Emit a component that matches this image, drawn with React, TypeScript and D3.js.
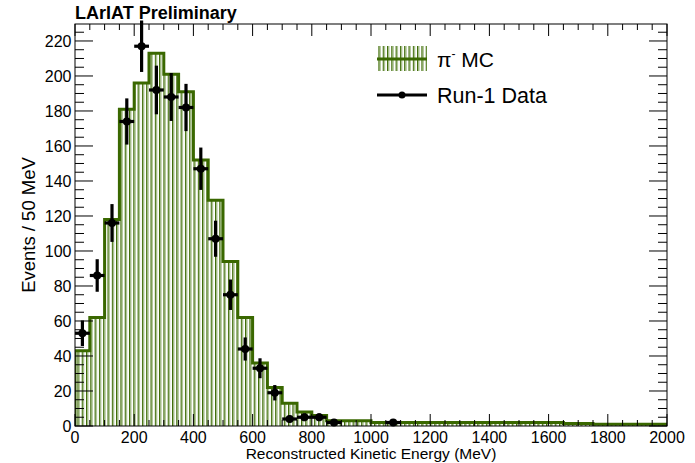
import React from "react";
import * as d3 from "d3";

// Bin lower edges (MeV), 50 MeV bins
const binLow: number[] = d3.range(0, 2000, 50);
const binWidth = 50;

// pi- MC histogram contents (per bin)
const mcValues: number[] = [
  43, 62, 118, 181, 196, 213, 201, 191, 152, 129,
  94, 62, 36, 22, 13, 8, 6, 3, 3, 3,
  2, 2, 2, 2, 2, 2, 2, 2, 2, 2,
  2, 2, 2, 1.5, 1.5, 1, 1, 1, 1, 1,
];

// Run-1 data points (bin centers, counts, errors)
const dataCenters: number[] = [
  25, 75, 125, 175, 225, 275, 325, 375, 425, 475,
  525, 575, 625, 675, 725, 775, 825, 875, 1075,
];
const dataValues: number[] = [
  53, 86, 116, 174, 217, 192, 188, 182, 147, 107,
  75, 44, 33, 19, 4, 5, 5, 2, 2,
];
const dataErrors: number[] = [
  7.3, 9.3, 10.8, 13.2, 14.7, 13.9, 13.7, 13.5, 12.1, 10.3,
  8.7, 6.6, 5.7, 4.4, 2.0, 2.2, 2.2, 1.4, 1.4,
];

const xTickLabels: number[] = [0, 200, 400, 600, 800, 1000, 1200, 1400, 1600, 1800, 2000];
const yTickLabels: number[] = [0, 20, 40, 60, 80, 100, 120, 140, 160, 180, 200, 220];

const W = 695;
const H = 463;
const L = 75;
const R = 667;
const T = 24;
const B = 426;
const FONT = "'Liberation Sans', Arial, Helvetica, sans-serif";
const GREEN = "#3a6800";
const LIGHTGREEN = "#93b273";

export default function App() {
  const x = d3.scaleLinear().domain([0, 2000]).range([L, R]);
  const y = d3.scaleLinear().domain([0, 229.7]).range([B, T]);

  // MC outline path
  const pts: [number, number][] = [[x(0), y(0)]];
  binLow.forEach((lo, i) => {
    pts.push([x(lo), y(mcValues[i])]);
    pts.push([x(lo + binWidth), y(mcValues[i])]);
  });
  pts.push([x(2000), y(0)]);
  const line = d3.line<[number, number]>();
  const outline = line(pts) as string;
  const area = outline + "Z";

  const xMinor = d3.range(0, 2001, 50);
  const yMinor = d3.range(0, 230, 5);
  const majX = 12, minX = 6, majY = 18, minY = 9;

  return (
    <svg width={W} height={H} style={{ position: "absolute", left: 0, top: 0, background: "#fff" }}>
      <defs>
        <pattern id="hatch" patternUnits="userSpaceOnUse" width={4.3} height={10}>
          <rect x={0} y={0} width={4.3} height={10} fill="#fff" />
          <rect x={0} y={0} width={1.2} height={10} fill={GREEN} />
          <rect x={1.2} y={0} width={1.1} height={10} fill={LIGHTGREEN} />
        </pattern>
        <clipPath id="frameclip">
          <rect x={L} y={T} width={R - L} height={B - T} />
        </clipPath>
      </defs>
      <rect x={0} y={0} width={W} height={H} fill="#fff" />

      {/* MC histogram */}
      <g clipPath="url(#frameclip)">
        <path d={area} fill="url(#hatch)" stroke="none" />
        <path d={outline} fill="none" stroke={GREEN} strokeWidth={3} strokeLinejoin="miter" />
      </g>

      {/* Data points */}
      <g stroke="#000" strokeWidth={3.2} strokeLinecap="butt">
        {dataCenters.map((c, i) => (
          <g key={i}>
            <line x1={x(c - 25)} x2={x(c + 25)} y1={y(dataValues[i])} y2={y(dataValues[i])} />
            <line x1={x(c)} x2={x(c)} y1={y(dataValues[i] - dataErrors[i])} y2={y(dataValues[i] + dataErrors[i])} />
            <circle cx={x(c)} cy={y(dataValues[i])} r={4} fill="#000" stroke="none" />
          </g>
        ))}
      </g>

      {/* Frame */}
      <rect x={L} y={T} width={R - L} height={B - T} fill="none" stroke="#000" strokeWidth={1} />

      {/* Ticks */}
      <g stroke="#000" strokeWidth={1}>
        {xMinor.map((v) => {
          const len = v % 200 === 0 ? majX : minX;
          return (
            <g key={"xt" + v}>
              <line x1={x(v)} x2={x(v)} y1={B} y2={B - len} />
              <line x1={x(v)} x2={x(v)} y1={T} y2={T + len} />
            </g>
          );
        })}
        {yMinor.map((v) => {
          const len = v % 20 === 0 ? majY : minY;
          return (
            <g key={"yt" + v}>
              <line x1={L} x2={L + len} y1={y(v)} y2={y(v)} />
              <line x1={R} x2={R - len} y1={y(v)} y2={y(v)} />
            </g>
          );
        })}
      </g>

      {/* Tick labels */}
      <g fontFamily={FONT} fontSize={16} fill="#000">
        {xTickLabels.map((v) => (
          <text key={"xl" + v} x={x(v)} y={443} textAnchor="middle">
            {v}
          </text>
        ))}
        {yTickLabels.map((v) => (
          <text key={"yl" + v} x={71.5} y={y(v)} dy="0.35em" textAnchor="end">
            {v}
          </text>
        ))}
      </g>

      {/* Axis titles */}
      <text x={371} y={459} textAnchor="middle" fontFamily={FONT} fontSize={15.5} fill="#000">
        Reconstructed Kinetic Energy (MeV)
      </text>
      <text
        transform={`translate(35, ${(T + B) / 2}) rotate(-90)`}
        textAnchor="middle"
        fontFamily={FONT}
        fontSize={18.5}
        fill="#000"
      >
        Events / 50 MeV
      </text>

      {/* Title */}
      <text x={75} y={19} fontFamily={FONT} fontSize={18} fontWeight="bold" fill="#000">
        LArIAT Preliminary
      </text>

      {/* Legend */}
      <rect x={377} y={46} width={50} height={25} fill="url(#hatch)" />
      <line x1={377} x2={427} y1={59} y2={59} stroke={GREEN} strokeWidth={3} />
      <text x={437} y={67} fontFamily={FONT} fontSize={21} fill="#000">
        π
        <tspan fontSize={12} dy={-9}>-</tspan>
        <tspan dy={9}> MC</tspan>
      </text>
      <line x1={377} x2={427} y1={95} y2={95} stroke="#000" strokeWidth={3} />
      <circle cx={402} cy={95} r={3.5} fill="#000" />
      <text x={437} y={102.5} fontFamily={FONT} fontSize={21.5} fill="#000">
        Run-1 Data
      </text>
    </svg>
  );
}
